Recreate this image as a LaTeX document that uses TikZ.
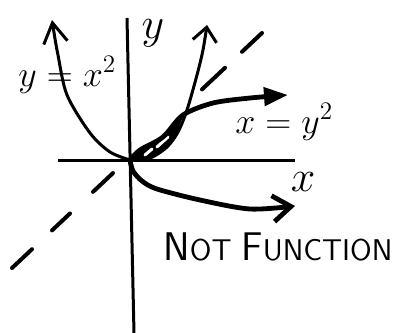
\RequirePackage{fix-cm}
\documentclass[tikz,border=0pt]{standalone}
\usetikzlibrary{arrows.meta,calc}
\begin{document}
\begin{tikzpicture}[x=0.5pt,y=-0.5pt,
  axis/.style={line width=1.5pt},
  curve/.style={line width=1.5pt},
  heavy curve/.style={line width=2.4pt},
  diag/.style={line width=2pt,line cap=round},
  lbl/.style={inner sep=0pt,font=\fontsize{18}{20}\selectfont}]
\useasboundingbox (0,0) rectangle (414,333);
% axes
\coordinate (o) at (130,160);
\coordinate (xa) at (58,160);
\coordinate (xb) at (295,160);
\coordinate (ya) at (127,18);
\coordinate (yb) at (134,333);
\draw[axis] (xa) -- (xb);
\draw[axis] (ya) -- (yb);
\node[lbl,font=\fontsize{22}{24}\selectfont,anchor=base] at (153,38) (ylab) {$y$};
\node[lbl,font=\fontsize{22}{24}\selectfont,anchor=base] at (303,191) (xlab) {$x$};
% the line y = x
\coordinate (da) at (12,268);
\coordinate (db) at (262,33);
\foreach \s/\e in {0/0.08,0.16/0.232,0.324/0.404,0.76/0.852,0.92/1}
  \draw[diag] ($(da)!\s!(db)$) -- ($(da)!\e!(db)$);
% region between the two curves
\fill plot[smooth] coordinates {(130,160) (140,150) (163,137) (183,116)}
  -- plot[smooth] coordinates {(177,133) (167,147) (150,158) (130,160)} -- cycle;
\draw[white,line width=1.5pt,line cap=round] (145,155) -- (152,149);
\draw[white,line width=1.5pt,line cap=round] (157,147) -- (168,137);
% y = x^2
\draw[curve,{Straight Barb[length=10pt,width=12pt]}-] plot[smooth] coordinates
  {(52,20) (58,55) (67,95) (90,133) (110,152) (130,160)};
\draw[curve,-{Straight Barb[length=7pt,width=12pt]}] plot[smooth] coordinates
  {(130,160) (150,158) (167,147) (178,132) (187,110) (197,75) (203,50) (207,25)};
\node[lbl,anchor=base west] at (18,86) (parlab) {$y=x^2$};
% x = y^2
\draw[heavy curve,-{Triangle[length=12pt,width=9pt]}] plot[smooth] coordinates
  {(130,160) (140,150) (163,137) (183,115) (213,103) (250,98) (288,95)};
\draw[heavy curve,-{Straight Barb[length=9pt,width=13pt]}] plot[smooth] coordinates
  {(130,160) (133,171) (142,181) (157,189) (200,200) (250,209) (295,206)};
\node[lbl,anchor=base west] at (235,133) (invlab) {$x=y^2$};
\node[inner sep=0pt,anchor=base west,font=\sffamily] at (163,260) (note)
  {\fontsize{20}{22}\selectfont N\fontsize{15}{17}\selectfont OT
   \fontsize{20}{22}\selectfont F\fontsize{15}{17}\selectfont UNCTION};
\end{tikzpicture}
\end{document}
